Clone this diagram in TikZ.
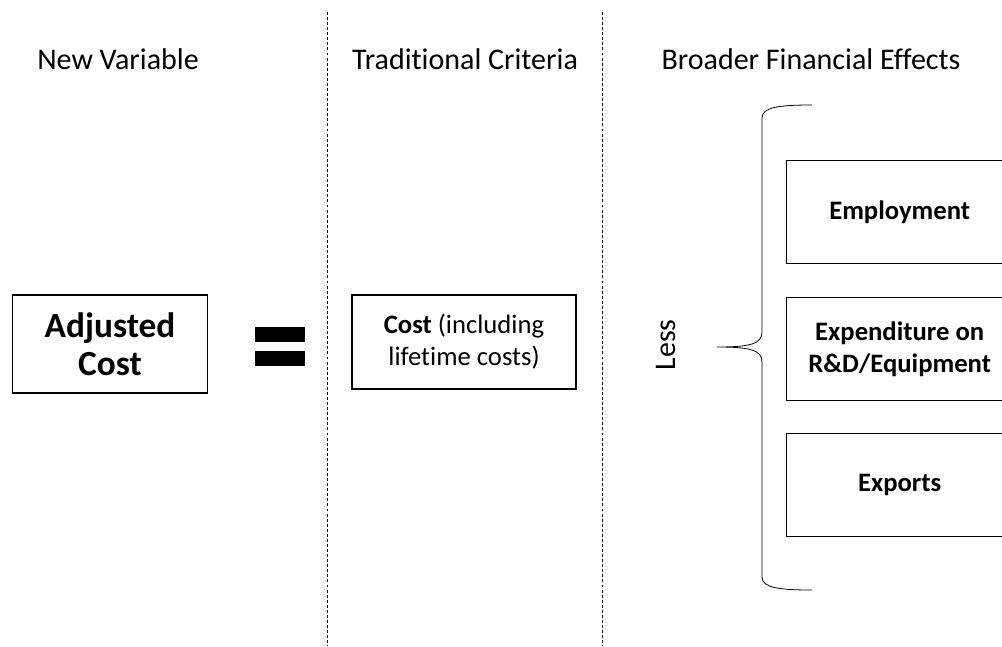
\documentclass[tikz,border=0pt]{standalone}
\usepackage{fontspec}
\setmainfont[Ligatures=NoCommon]{Carlito}
\usetikzlibrary{positioning}

\begin{document}
\begin{tikzpicture}[x=0.75pt, y=-0.75pt,
  head/.style={font=\fontsize{22.5}{27}\selectfont, anchor=base},
  box/.style={draw, line width=1pt, align=center, inner sep=0pt,
    font=\fontsize{20}{24}\selectfont},
  effect/.style={box, minimum width=169.5pt, minimum height=77pt, font=\fontsize{20}{24}\selectfont\bfseries},
  divider/.style={line width=0.6pt, dash pattern=on 2.2pt off 1.6pt}]
  \clip (0,0) rectangle (1002,646);
  % headings
  \node[head] (hnew) at (118,69) {New Variable};
  \node[head] (htrad) at (465,69) {Traditional Criteria};
  \node[head] (hbroad) at (811,69) {Broader Financial Effects};
  % dividers
  \coordinate (d1top) at (327,12);
  \coordinate (d1bot) at (327,646);
  \coordinate (d2top) at (602,12);
  \coordinate (d2bot) at (602,646);
  \draw[divider] (d1top) -- (d1bot);
  \draw[divider] (d2top) -- (d2bot);
  % left side
  \node[box, minimum width=146pt, minimum height=73.5pt,
    font=\fontsize{26.5}{28.5}\selectfont\bfseries] (adj) at (110,344) {Adjusted\\Cost};
  \fill (255,327) rectangle (305,342);
  \fill (255,351) rectangle (305,366);
  \node[box, minimum width=168pt, minimum height=70.5pt] (cost) at (464,342)
    {\textbf{Cost} (including\\lifetime costs)};
  % right side
  \node[rotate=90, font=\fontsize{22.5}{27}\selectfont] (less) at (666,345) {Less};
  \draw[line width=0.6pt] (812,105) .. controls (780,105) and (762,107) .. (762,118)
    -- (762,332) .. controls (762,344) and (750,347) .. (717,347)
    .. controls (750,347) and (762,350) .. (762,362)
    -- (762,577) .. controls (762,588) and (780,590) .. (812,590);
  \node[effect, anchor=north west] (emp) at (786,160) {Employment};
  \node[effect, below=24.75pt of emp] (rnd) {Expenditure on\\R\&D/Equipment};
  \node[effect, below=24pt of rnd] (exp) {Exports};
\end{tikzpicture}
\end{document}
